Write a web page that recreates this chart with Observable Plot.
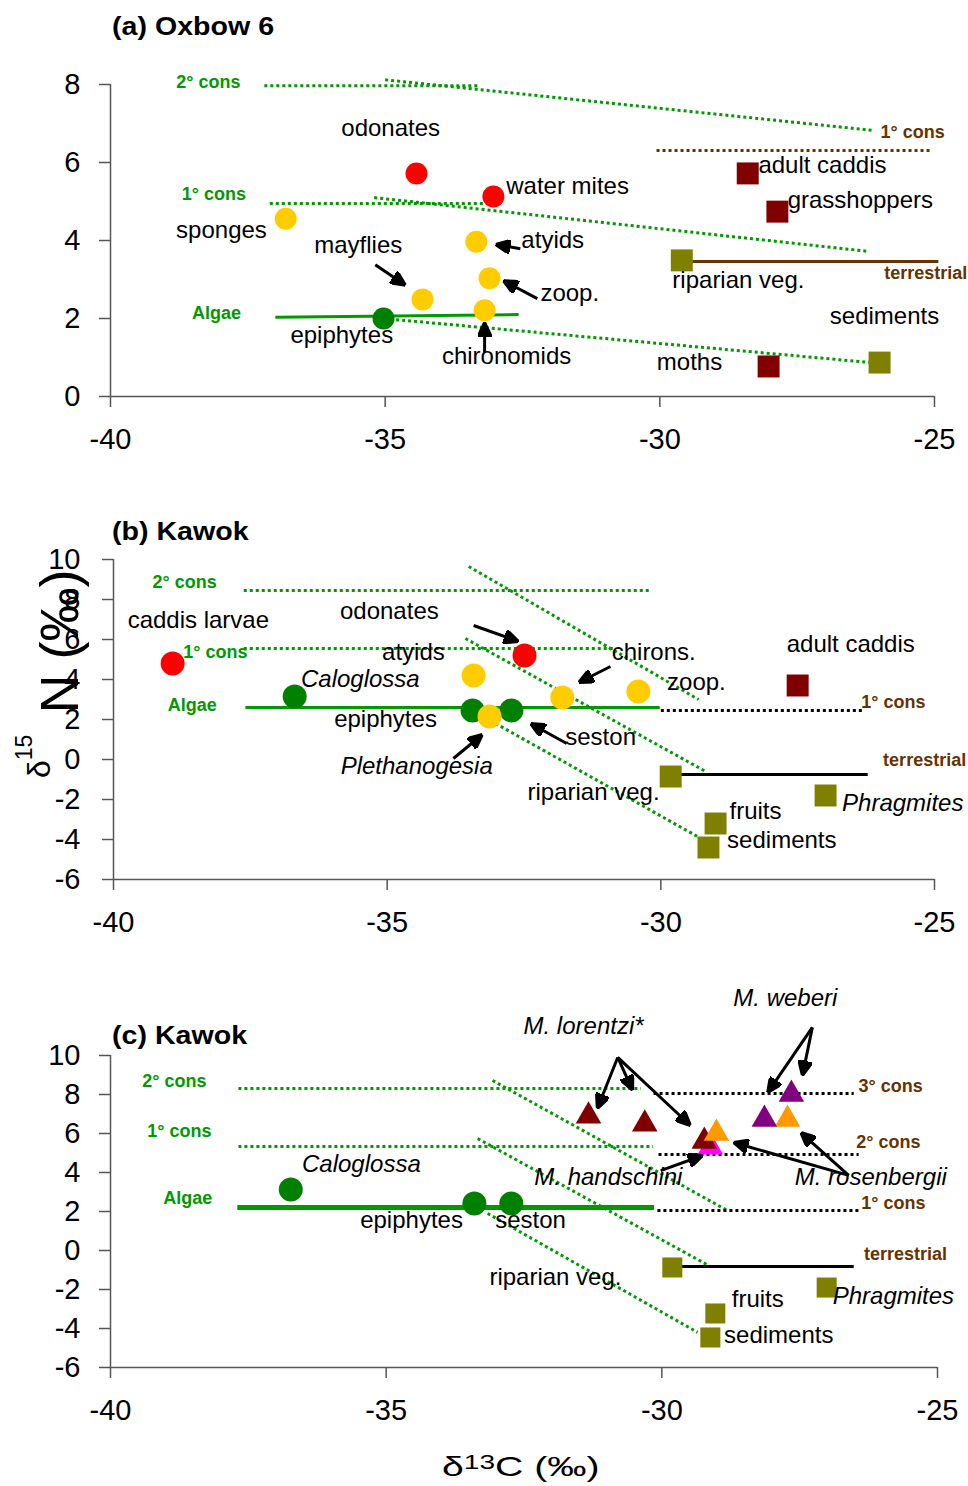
<!DOCTYPE html>
<html>
<head>
<meta charset="utf-8">
<script src="https://cdn.jsdelivr.net/npm/d3@7"></script>
<script src="https://cdn.jsdelivr.net/npm/@observablehq/plot@0.6"></script>
<style>
  body { margin: 0; background: #fff; font-family: "Liberation Sans", Arial, Helvetica, sans-serif; }
  #fig { position: relative; width: 968px; height: 1486px; overflow: hidden; background: #fff; }
  .panel { position: absolute; left: 0; }
  .title { position: absolute; font-weight: bold; font-size: 26px; line-height: 26px; white-space: nowrap; transform-origin: 0 0; transform: scaleX(1.1); z-index: 5; }
  .axlabel { position: absolute; white-space: nowrap; transform-origin: 0 0; z-index: 5; color: #000; }
</style>
</head>
<body>
<div id="fig"></div>
<script>
// ---------- shared ----------
const xTicks = [-40, -35, -30, -25];
const yTicksA = [0, 2, 4, 6, 8];
const yTicksBC = [10, 8, 6, 4, 2, 0, -2, -4, -6];
const panelTitles = ["(a) Oxbow 6", "(b) Kawok", "(c) Kawok"];

// ---------- panel (a) Oxbow 6 ----------
const aTaxa  = ["odonates", "water mites", "sponges", "atyids", "zoop.", "mayflies", "chironomids", "epiphytes", "adult caddis", "grasshoppers", "riparian veg.", "moths", "sediments"];
const aC     = [-34.43, -33.03, -36.81, -33.34, -33.10, -34.32, -33.19, -35.03, -28.40, -27.86, -29.60, -28.02, -26.00];
const aN     = [5.72, 5.13, 4.56, 3.97, 3.03, 2.49, 2.21, 2.00, 5.72, 4.74, 3.49, 0.77, 0.87];
const aGroup = ["predator", "predator", "consumer", "consumer", "consumer", "consumer", "consumer", "producer", "terr-insect", "terr-insect", "terr-source", "terr-insect", "terr-source"];

const aLabText = ["odonates", "water mites", "sponges", "mayflies", "atyids", "zoop.", "epiphytes", "chironomids", "adult caddis", "grasshoppers", "riparian veg.", "sediments", "moths"];
const aLabX    = [-34.90, -31.68, -37.98, -35.49, -31.95, -31.64, -35.79, -32.79, -27.04, -26.35, -28.57, -25.91, -29.46];
const aLabY    = [6.87, 5.38, 4.26, 3.87, 4.00, 2.64, 1.56, 1.03, 5.92, 5.03, 2.97, 2.05, 0.87];
const aLabKind = ["common", "common", "common", "common", "common", "common", "common", "common", "common", "common", "common", "common", "common"];

const aTrText = ["2° cons", "1° cons", "Algae", "1° cons", "terrestrial"];
const aTrX    = [-38.22, -38.12, -38.07, -25.40, -25.16];
const aTrY    = [8.05, 5.18, 2.13, 6.77, 3.15];
const aTrKind = ["aquatic", "aquatic", "aquatic", "terrestrial", "terrestrial"];

const aLineX1 = [-37.2, -35.0, -37.1, -35.2, -37.0, -34.8, -30.06, -29.44];
const aLineY1 = [7.97, 8.12, 4.95, 5.10, 2.03, 1.97, 6.31, 3.46];
const aLineX2 = [-33.3, -26.1, -33.0, -26.2, -32.57, -26.16, -25.04, -24.93];
const aLineY2 = [7.97, 6.82, 4.95, 3.72, 2.10, 0.87, 6.31, 3.46];
const aLineKind = ["aq-dotted", "aq-dotted", "aq-dotted", "aq-dotted", "aq-solid", "aq-dotted", "terr-dotted", "terr-solid"];

const aArrX1 = [-35.18, -32.54, -32.23, -33.19];
const aArrY1 = [3.38, 3.79, 2.51, 1.13];
const aArrX2 = [-34.63, -32.99, -32.85, -33.19];
const aArrY2 = [2.85, 3.90, 2.97, 1.90];

// ---------- panel (b) Kawok ----------
const bTaxa  = ["caddis larvae", "Caloglossa", "atyids", "odonates", "epiphytes", "seston", "Plethanogesia", "chirons.", "zoop.", "adult caddis", "riparian veg.", "Phragmites", "fruits", "sediments"];
const bC     = [-38.92, -36.69, -33.42, -32.49, -33.44, -32.73, -33.13, -31.80, -30.41, -27.50, -29.82, -26.99, -29.00, -29.13];
const bN     = [4.80, 3.15, 4.20, 5.20, 2.45, 2.45, 2.15, 3.10, 3.40, 3.70, -0.85, -1.80, -3.20, -4.40];
const bGroup = ["predator", "producer", "consumer", "predator", "producer", "producer", "consumer", "consumer", "consumer", "terr-insect", "terr-source", "terr-source", "terr-source", "terr-source"];

const bLabText = ["caddis larvae", "odonates", "atyids", "Caloglossa", "epiphytes", "Plethanogesia", "chirons.", "zoop.", "seston", "riparian veg.", "adult caddis", "Phragmites", "fruits", "sediments"];
const bLabX    = [-38.45, -34.96, -34.52, -35.49, -35.03, -34.46, -30.13, -29.35, -31.10, -31.23, -26.53, -25.58, -28.27, -27.79];
const bLabY    = [6.95, 7.40, 5.35, 4.00, 2.00, -0.35, 5.35, 3.85, 1.10, -1.65, 5.75, -2.20, -2.60, -4.05];
const bLabKind = ["common", "common", "common", "genus", "common", "genus", "common", "common", "common", "common", "common", "genus", "common", "common"];

const bTrText = ["2° cons", "1° cons", "Algae", "1° cons", "terrestrial"];
const bTrX    = [-38.70, -38.14, -38.56, -25.75, -25.18];
const bTrY    = [8.85, 5.35, 2.70, 2.85, -0.05];
const bTrKind = ["aquatic", "aquatic", "aquatic", "terrestrial", "terrestrial"];

const bLineX1 = [-37.62, -37.62, -37.59, -33.51, -33.57, -33.02, -30.00, -29.82];
const bLineY1 = [8.45, 5.55, 2.60, 9.65, 6.05, 1.80, 2.45, -0.75];
const bLineX2 = [-30.22, -30.86, -30.02, -29.31, -29.18, -29.33, -26.31, -26.22];
const bLineY2 = [8.45, 5.55, 2.60, 3.00, -0.60, -3.85, 2.45, -0.75];
const bLineKind = ["aq-dotted", "aq-dotted", "aq-solid", "aq-dotted", "aq-dotted", "aq-dotted", "terr-dotted", "terr-solid"];

const bArrX1 = [-33.42, -30.92, -31.72, -33.79];
const bArrY1 = [6.70, 4.65, 0.80, 0.05];
const bArrX2 = [-32.60, -31.50, -32.38, -33.26];
const bArrY2 = [5.90, 3.85, 1.80, 1.25];

// ---------- panel (c) Kawok, Macrobrachium ----------
const cTaxa  = ["Caloglossa", "epiphytes", "seston", "M. handschini", "M. lorentzi", "M. lorentzi", "M. lorentzi", "M. rosenbergii", "M. rosenbergii", "M. weberi", "M. weberi", "riparian veg.", "Phragmites", "fruits", "sediments"];
const cC     = [-36.73, -33.40, -32.73, -29.12, -31.33, -30.31, -29.23, -29.01, -27.72, -28.14, -27.65, -29.81, -27.01, -29.03, -29.12];
const cN     = [3.13, 2.41, 2.41, 5.30, 6.89, 6.48, 5.60, 6.01, 6.73, 6.73, 8.01, -0.87, -1.90, -3.23, -4.46];
const cGroup = ["producer", "producer", "producer", "handschini", "lorentzi", "lorentzi", "lorentzi", "rosenbergii", "rosenbergii", "weberi", "weberi", "terr-source", "terr-source", "terr-source", "terr-source"];

const cLabText = ["Caloglossa", "epiphytes", "seston", "riparian veg.", "M. lorentzi*", "M. weberi", "M. handschini", "M. rosenbergii", "fruits", "sediments", "Phragmites"];
const cLabX    = [-35.45, -34.54, -32.38, -31.93, -31.42, -27.76, -30.97, -26.21, -28.26, -27.88, -25.80];
const cLabY    = [4.41, 1.54, 1.54, -1.38, 11.49, 12.92, 3.74, 3.74, -2.51, -4.36, -2.36];
const cLabKind = ["genus", "common", "common", "common", "genus", "genus", "genus", "genus", "common", "common", "genus"];

const cTrText = ["2° cons", "1° cons", "Algae", "3° cons", "2° cons", "1° cons", "terrestrial"];
const cTrX    = [-38.84, -38.75, -38.60, -25.85, -25.89, -25.80, -25.58];
const cTrY    = [8.67, 6.10, 2.67, 8.41, 5.54, 2.41, -0.20];
const cTrKind = ["aquatic", "aquatic", "aquatic", "terrestrial", "terrestrial", "terrestrial", "terrestrial"];

const cLineX1 = [-37.68, -37.68, -37.70, -33.07, -33.34, -33.16, -30.15, -30.06, -30.08, -29.81];
const cLineY1 = [8.31, 5.33, 2.20, 8.72, 5.74, 1.90, 8.05, 4.92, 2.05, -0.82];
const cLineX2 = [-30.38, -30.16, -30.14, -28.81, -29.12, -29.35, -26.52, -26.43, -26.43, -26.52];
const cLineY2 = [8.31, 5.33, 2.20, 2.05, -0.82, -4.20, 8.05, 4.92, 2.05, -0.82];
const cLineKind = ["aq-dotted", "aq-dotted", "aq-solid", "aq-dotted", "aq-dotted", "aq-dotted", "terr-dotted", "terr-dotted", "terr-dotted", "terr-solid"];

const cArrX1 = [-30.80, -30.80, -30.80, -27.27, -27.27, -30.02, -26.61, -26.61];
const cArrY1 = [9.90, 9.90, 9.90, 11.44, 11.44, 4.10, 3.85, 3.85];
const cArrX2 = [-31.17, -30.53, -29.48, -28.08, -27.45, -29.26, -28.70, -27.48];
const cArrY2 = [7.28, 8.21, 6.41, 8.10, 8.97, 4.87, 5.54, 6.05];

// ---------- styling (not data) ----------
const FONT = '"Liberation Sans", Arial, Helvetica, sans-serif';
const AXIS = "#555";
const GREEN = "#009900";
const BROWN = "#663300";
const fillOf = {
  producer: "#008000", consumer: "#ffcc00", predator: "#ff0000",
  "terr-insect": "#800000", "terr-source": "#808000",
  lorentzi: "#800000", handschini: "#ff00ff", rosenbergii: "#ff9900", weberi: "#800080"
};
const shapeOf = g => ["producer", "consumer", "predator"].includes(g) ? "circle" : (g.startsWith("terr") ? "square" : "triangle");

function headMarker(color) {
  const m = d3.create("svg:marker")
    .attr("viewBox", "-15 -7 15 14")
    .attr("markerWidth", 15).attr("markerHeight", 14)
    .attr("markerUnits", "userSpaceOnUse")
    .attr("refX", 0).attr("refY", 0)
    .attr("orient", "auto");
  m.append("path").attr("d", "M-15,-7L0,0L-15,7Z").attr("fill", color);
  return m.node();
}

function panel(o) {
  const pts = o.c.map((c, i) => ({c, n: o.n[i], g: o.g[i], name: o.taxa[i]}));
  const lines = o.lx1.map((x1, i) => ({x1, y1: o.ly1[i], x2: o.lx2[i], y2: o.ly2[i], k: o.lk[i]}));
  const arrows = o.ax1.map((x1, i) => ({x1, y1: o.ay1[i], x2: o.ax2[i], y2: o.ay2[i]}));
  const labels = o.labText.map((t, i) => ({t, x: o.labX[i], y: o.labY[i], k: o.labKind[i]}));
  const troph = o.trText.map((t, i) => ({t, x: o.trX[i], y: o.trY[i], k: o.trKind[i]}));
  const L = k => lines.filter(d => d.k === k);
  const lk = {x1: "x1", y1: "y1", x2: "x2", y2: "y2"};
  const S = s => pts.filter(d => shapeOf(d.g) === s);
  return Plot.plot({
    width: 968, height: o.height,
    marginLeft: o.ml, marginRight: o.mr, marginTop: o.mt, marginBottom: o.mb,
    x: {domain: [-40, -25], label: null},
    y: {domain: o.yDomain, label: null},
    color: {type: "identity"},
    style: {fontFamily: FONT, fontSize: "24px", color: "#000", background: "white", overflow: "visible"},
    marks: [
      Plot.link(L("aq-dotted"), {...lk, stroke: GREEN, strokeWidth: 3, strokeDasharray: "3,3"}),
      Plot.link(L("aq-solid"), {...lk, stroke: GREEN, strokeWidth: o.algaeW}),
      Plot.link(L("terr-dotted"), {...lk, stroke: o.terrLine, strokeWidth: 3, strokeDasharray: "3,3"}),
      Plot.link(L("terr-solid"), {...lk, stroke: o.terrLine, strokeWidth: 3}),
      Plot.dot(S("circle"), {x: "c", y: "n", r: o.rCircle, symbol: "circle", fill: d => fillOf[d.g]}),
      Plot.dot(S("square"), {x: "c", y: "n", r: o.rSquare, symbol: "square", fill: d => fillOf[d.g]}),
      Plot.dot(S("triangle"), {x: "c", y: "n", r: 9.5, symbol: "triangle", fill: d => fillOf[d.g]}),
      Plot.link(arrows, {...lk, stroke: "black", strokeWidth: 3, markerEnd: headMarker}),
      Plot.text(labels.filter(d => d.k === "common"), {x: "x", y: "y", text: "t", fontSize: 24, fill: "black"}),
      Plot.text(labels.filter(d => d.k === "genus"), {x: "x", y: "y", text: "t", fontSize: 24, fill: "black", fontStyle: "italic"}),
      Plot.text(troph.filter(d => d.k === "aquatic"), {x: "x", y: "y", text: "t", fontSize: 18, fontWeight: "bold", fill: GREEN}),
      Plot.text(troph.filter(d => d.k === "terrestrial"), {x: "x", y: "y", text: "t", fontSize: 18, fontWeight: "bold", fill: BROWN}),
      Plot.ruleX([-40], {stroke: AXIS, strokeWidth: 1.5}),
      Plot.ruleY([o.yDomain[0]], {stroke: AXIS, strokeWidth: 1.5}),
      Plot.axisX(xTicks, {tickSize: 11, tickPadding: 21, fontSize: 29, stroke: AXIS, strokeWidth: 1.5, fill: "black", tickFormat: d => String(d), label: null}),
      Plot.axisY(o.yTicks, {tickSize: 11, tickPadding: o.yPad, fontSize: 29, stroke: AXIS, strokeWidth: 1.5, fill: "black", tickFormat: d => String(d), label: null})
    ]
  });
}

const fig = document.getElementById("fig");
function place(node, top) {
  const d = document.createElement("div");
  d.className = "panel";
  d.style.top = top + "px";
  d.appendChild(node);
  fig.appendChild(d);
}

place(panel({
  taxa: aTaxa, c: aC, n: aN, g: aGroup,
  labText: aLabText, labX: aLabX, labY: aLabY, labKind: aLabKind,
  trText: aTrText, trX: aTrX, trY: aTrY, trKind: aTrKind,
  lx1: aLineX1, ly1: aLineY1, lx2: aLineX2, ly2: aLineY2, lk: aLineKind,
  ax1: aArrX1, ay1: aArrY1, ax2: aArrX2, ay2: aArrY2,
  yDomain: [0, 8], yTicks: yTicksA, height: 470, ml: 110, mr: 34, mt: 84, mb: 74, yPad: 19,
  rCircle: 11, rSquare: 12.4, algaeW: 3, terrLine: BROWN
}), 0);

place(panel({
  taxa: bTaxa, c: bC, n: bN, g: bGroup,
  labText: bLabText, labX: bLabX, labY: bLabY, labKind: bLabKind,
  trText: bTrText, trX: bTrX, trY: bTrY, trKind: bTrKind,
  lx1: bLineX1, ly1: bLineY1, lx2: bLineX2, ly2: bLineY2, lk: bLineKind,
  ax1: bArrX1, ay1: bArrY1, ax2: bArrX2, ay2: bArrY2,
  yDomain: [-6, 10], yTicks: yTicksBC, height: 480, ml: 113, mr: 34, mt: 89, mb: 71, yPad: 22,
  rCircle: 12, rSquare: 12.4, algaeW: 3, terrLine: "black"
}), 470);

place(panel({
  taxa: cTaxa, c: cC, n: cN, g: cGroup,
  labText: cLabText, labX: cLabX, labY: cLabY, labKind: cLabKind,
  trText: cTrText, trX: cTrX, trY: cTrY, trKind: cTrKind,
  lx1: cLineX1, ly1: cLineY1, lx2: cLineX2, ly2: cLineY2, lk: cLineKind,
  ax1: cArrX1, ay1: cArrY1, ax2: cArrX2, ay2: cArrY2,
  yDomain: [-6, 10], yTicks: yTicksBC, height: 480, ml: 110, mr: 31, mt: 105, mb: 63, yPad: 19,
  rCircle: 12, rSquare: 11.3, algaeW: 5, terrLine: "black"
}), 950);

// titles
[[0, 13], [1, 518], [2, 1022]].forEach(([i, top]) => {
  const t = document.createElement("div");
  t.className = "title";
  t.style.left = "112px";
  t.style.top = top + "px";
  t.textContent = panelTitles[i];
  fig.appendChild(t);
});

// x axis title
const xl = document.createElement("div");
xl.className = "axlabel";
xl.style.left = "442px";
xl.style.top = "1453px";
xl.style.fontSize = "28px";
xl.style.lineHeight = "28px";
xl.style.transform = "scaleX(1.4)";
xl.innerHTML = 'δ<span style="font-size:20px;position:relative;top:-7px">13</span>C (‰)';
fig.appendChild(xl);

// y axis title
const yl = document.createElement("div");
yl.className = "axlabel";
yl.style.left = "32px";
yl.style.top = "778px";
yl.style.fontSize = "54px";
yl.style.lineHeight = "54px";
yl.style.transform = "rotate(-90deg)";
yl.innerHTML = '<span style="font-size:32px;position:relative;top:-28px">δ</span><span style="font-size:23px;position:relative;top:-46px">15</span><span style="margin-left:21px">N (‰)</span>';
fig.appendChild(yl);
</script>
</body>
</html>
